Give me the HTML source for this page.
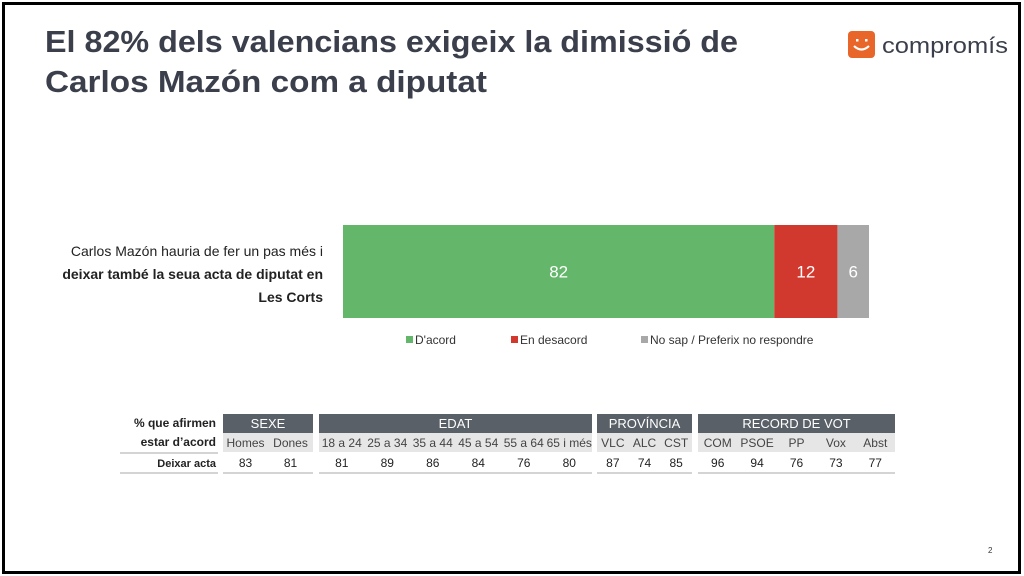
<!DOCTYPE html>
<html><head><meta charset="utf-8"><style>
html,body{margin:0;padding:0;background:#fff;}
svg{display:block;font-family:"Liberation Sans",sans-serif;}
</style></head><body>
<svg width="1024" height="576" viewBox="0 0 1024 576">
<rect x="3.5" y="3.5" width="1016" height="569" fill="#fff" stroke="#000" stroke-width="3"/>
<text x="45" y="52" font-size="31" font-weight="bold" fill="#3a3f4b" textLength="693" lengthAdjust="spacingAndGlyphs">El 82% dels valencians exigeix la dimissió de</text>
<text x="45" y="92" font-size="31" font-weight="bold" fill="#3a3f4b" textLength="442" lengthAdjust="spacingAndGlyphs">Carlos Mazón com a diputat</text>
<g>
<rect x="848" y="31" width="27" height="27" rx="4" fill="#e8662a"/>
<path d="M854 46 Q861.5 53 869 46" stroke="#fff" stroke-width="2.2" fill="none"/>
<rect x="856" y="39" width="2.5" height="2.5" fill="#fff"/><rect x="865" y="39" width="2.5" height="2.5" fill="#fff"/>
<text x="882" y="53" font-size="22" fill="#3a3f4b" textLength="126" lengthAdjust="spacingAndGlyphs">compromís</text>
</g>
<g font-size="14" fill="#222" text-anchor="end">
<text x="323" y="256">Carlos Mazón hauria de fer un pas més i</text>
<text x="323" y="279" font-weight="bold">deixar també la seua acta de diputat en</text>
<text x="323" y="302" font-weight="bold">Les Corts</text>
</g>
<g id="bars"></g>
<g id="legend" font-size="12" fill="#333"></g>
<g id="table" font-size="12"></g>
<text x="988" y="553" font-size="8" fill="#333">2</text>
</svg>
<script>
const segLabels=["D'acord","En desacord","No sap / Preferix no respondre"];
const segValues=[82,12,6];
const segColors=["#64b66b","#d2392e","#a8a8a8"];
const NS="http://www.w3.org/2000/svg";
function mk(t,a,p){const e=document.createElementNS(NS,t);for(const k in a)e.setAttribute(k,a[k]);p.appendChild(e);return e;}
const x0=343,x1=869,by=225,bh=93;
const total=segValues.reduce((a,b)=>a+b,0);
const xs=v=>x0+(x1-x0)*v/total;
const bars=document.getElementById('bars');
let acc=0;
segValues.forEach((v,i)=>{
 const r=mk('rect',{x:xs(acc),y:by,width:xs(acc+v)-xs(acc),height:bh,fill:segColors[i]},bars);
 
 
 const t=mk('text',{x:(xs(acc)+xs(acc+v))/2,y:by+bh/2+6,'text-anchor':'middle','font-size':17,fill:'#fff'},bars);
 t.textContent=v;
 
 
 acc+=v;
});
const lg=document.getElementById('legend');
const lx=[406,511,641];
segLabels.forEach((l,i)=>{
 const g=mk('g',{},lg);
 
 
 mk('rect',{x:lx[i],y:336,width:7,height:7,fill:segColors[i]},g);
 const t=mk('text',{x:lx[i]+9,y:344},g);t.textContent=l;
});
// table
const groups=["SEXE","EDAT","PROVÍNCIA","RECORD DE VOT"];
const cols=[["Homes","Dones"],["18 a 24","25 a 34","35 a 44","45 a 54","55 a 64","65 i més"],["VLC","ALC","CST"],["COM","PSOE","PP","Vox","Abst"]];
const vals=[[83,81],[81,89,86,84,76,80],[87,74,85],[96,94,76,73,77]];
const gx=[[223,313],[319,592],[597,692],[698,895]];
const tb=document.getElementById('table');
groups.forEach((g,i)=>{
 const [a,b]=gx[i];
 const h=mk('rect',{x:a,y:414,width:b-a,height:19,fill:'#596068'},tb);
 
 
 const ht=mk('text',{x:(a+b)/2,y:428,'text-anchor':'middle',fill:'#fff','font-size':13},tb);ht.textContent=g;
 mk('rect',{x:a,y:433,width:b-a,height:19,fill:'#e6e6e6'},tb);
 mk('line',{x1:a,x2:b,y1:473,y2:473,stroke:'#aaa','stroke-width':1},tb);
 const w=(b-a)/cols[i].length;
 cols[i].forEach((c,j)=>{
  const cx=a+w*(j+0.5);
  const t=mk('text',{x:cx,y:447,'text-anchor':'middle',fill:'#444'},tb);t.textContent=c;
  const v=mk('text',{x:cx,y:467,'text-anchor':'middle',fill:'#222'},tb);v.textContent=vals[i][j];
  
  
 });
});
mk('line',{x1:120,x2:218,y1:473,y2:473,stroke:'#aaa'},tb);
mk('line',{x1:120,x2:218,y1:453,y2:453,stroke:'#aaa'},tb);
[["% que afirmen",427],["estar d’acord",446],["Deixar acta",467]].forEach(([s,y],k)=>{
 const t=mk('text',{x:216,y:y,'text-anchor':'end','font-weight':'bold',fill:'#222','font-size':k==2?11:12},tb);t.textContent=s;
});
</script>
</body></html>
